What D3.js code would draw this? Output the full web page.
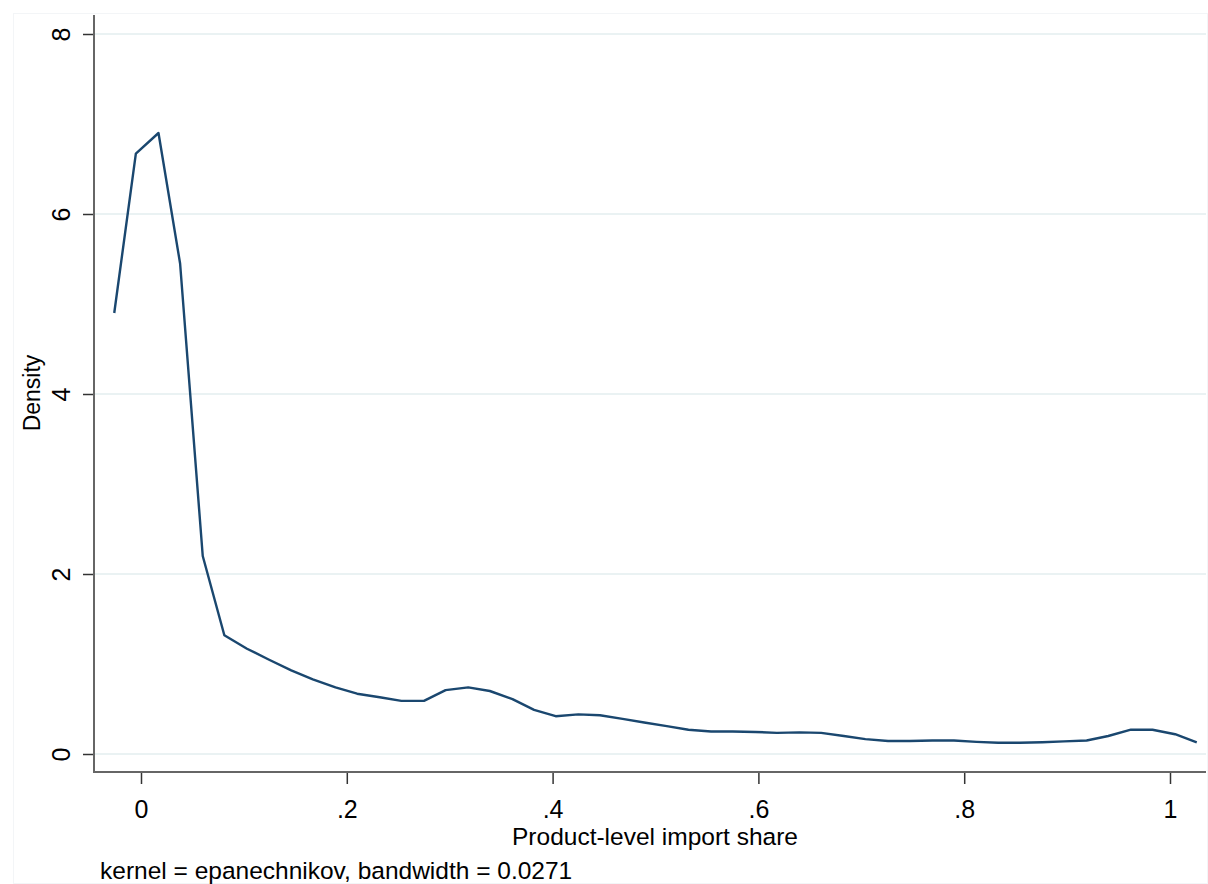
<!DOCTYPE html>
<html>
<head>
<meta charset="utf-8">
<script src="https://cdn.jsdelivr.net/npm/d3@7"></script>
<style>
  body { margin: 0; background: #fff; }
  svg text { font-family: "Liberation Sans", Arial, sans-serif; fill: #000; }
</style>
</head>
<body>
<div id="chart"></div>
<script>
// kernel density estimate, 50 evaluation points
const importShare = [
  -0.026, -0.005, 0.017, 0.038, 0.060, 0.081, 0.103, 0.124, 0.146, 0.167,
  0.189, 0.210, 0.232, 0.253, 0.275, 0.296, 0.318, 0.339, 0.361, 0.382,
  0.403, 0.425, 0.446, 0.468, 0.489, 0.511, 0.532, 0.554, 0.575, 0.597,
  0.618, 0.640, 0.661, 0.683, 0.704, 0.726, 0.747, 0.769, 0.790, 0.812,
  0.833, 0.854, 0.876, 0.897, 0.919, 0.940, 0.962, 0.983, 1.005, 1.026
];
const density = [
  4.9, 6.67, 6.9, 5.45, 2.2, 1.32, 1.17, 1.05, 0.93, 0.83,
  0.74, 0.67, 0.63, 0.59, 0.59, 0.71, 0.74, 0.70, 0.61, 0.49,
  0.42, 0.44, 0.43, 0.39, 0.35, 0.31, 0.27, 0.25, 0.25, 0.245,
  0.235, 0.24, 0.235, 0.20, 0.165, 0.145, 0.145, 0.15, 0.15, 0.135,
  0.125, 0.125, 0.13, 0.14, 0.15, 0.20, 0.27, 0.27, 0.22, 0.13
];
const xTicks = [0, 0.2, 0.4, 0.6, 0.8, 1];
const yTicks = [0, 2, 4, 6, 8];
const xTitle = "Product-level import share";
const yTitle = "Density";
const note = "kernel = epanechnikov, bandwidth = 0.0271";

const W = 1208, H = 884;
const plot = { left: 94, right: 1206, top: 15, bottom: 772 };

const svg = d3.select("#chart").append("svg")
  .attr("width", W)
  .attr("height", H);

const x = d3.scaleLinear().domain([0, 1]).range([141, 1170]);
const y = d3.scaleLinear().domain([0, 8]).range([754, 34]);

// faint outer frame of the graph region
svg.append("rect")
  .attr("x", 13.5).attr("y", 13.5)
  .attr("width", W - 14).attr("height", H - 14)
  .attr("fill", "none")
  .attr("stroke", "#f3f5f7");

// gridlines
svg.append("g")
  .selectAll("line")
  .data(yTicks)
  .enter().append("line")
  .attr("x1", plot.left + 1).attr("x2", plot.right)
  .attr("y1", d => y(d)).attr("y2", d => y(d))
  .attr("stroke", "#eaf2f3")
  .attr("stroke-width", 2);

// y axis
const fmt = d => d === 0 ? "0" : String(d).replace(/^0\./, ".");
const yAxis = svg.append("g")
  .attr("transform", `translate(${plot.left},0)`)
  .call(d3.axisLeft(y).tickValues(yTicks).tickSize(11).tickPadding(0).tickFormat(fmt));
yAxis.select(".domain").remove();
yAxis.selectAll(".tick line").attr("stroke", "#333").attr("stroke-width", 1.5);
yAxis.selectAll(".tick text")
  .attr("x", null).attr("dy", null)
  .attr("text-anchor", "middle")
  .attr("transform", "translate(-24,0) rotate(-90)")
  .style("font-size", "25px");

svg.append("line")
  .attr("x1", plot.left).attr("x2", plot.left)
  .attr("y1", plot.top).attr("y2", plot.bottom + 1)
  .attr("stroke", "#666").attr("stroke-width", 2);

// x axis
const xAxis = svg.append("g")
  .attr("transform", `translate(0,${plot.bottom})`)
  .call(d3.axisBottom(x).tickValues(xTicks).tickSize(12).tickPadding(0).tickFormat(fmt));
xAxis.select(".domain").remove();
xAxis.selectAll(".tick line").attr("stroke", "#333").attr("stroke-width", 1.5);
xAxis.selectAll(".tick text")
  .attr("y", 46).attr("dy", null)
  .style("font-size", "25px");

svg.append("line")
  .attr("x1", plot.left - 1).attr("x2", plot.right)
  .attr("y1", plot.bottom).attr("y2", plot.bottom)
  .attr("stroke", "#666").attr("stroke-width", 2);

// density curve
const line = d3.line()
  .x((d, i) => x(importShare[i]))
  .y(d => y(d));

svg.append("path")
  .datum(density)
  .attr("d", line)
  .attr("fill", "none")
  .attr("stroke", "#1a476f")
  .attr("stroke-width", 2.4)
  .attr("stroke-linejoin", "round");

// titles
svg.append("text")
  .attr("x", 655).attr("y", 845)
  .attr("text-anchor", "middle")
  .style("font-size", "24.5px")
  .text(xTitle);

svg.append("text")
  .attr("transform", "translate(40,393) rotate(-90)")
  .attr("text-anchor", "middle")
  .style("font-size", "23px")
  .text(yTitle);

svg.append("text")
  .attr("x", 100).attr("y", 879)
  .style("font-size", "24.5px")
  .text(note);
</script>
</body>
</html>
